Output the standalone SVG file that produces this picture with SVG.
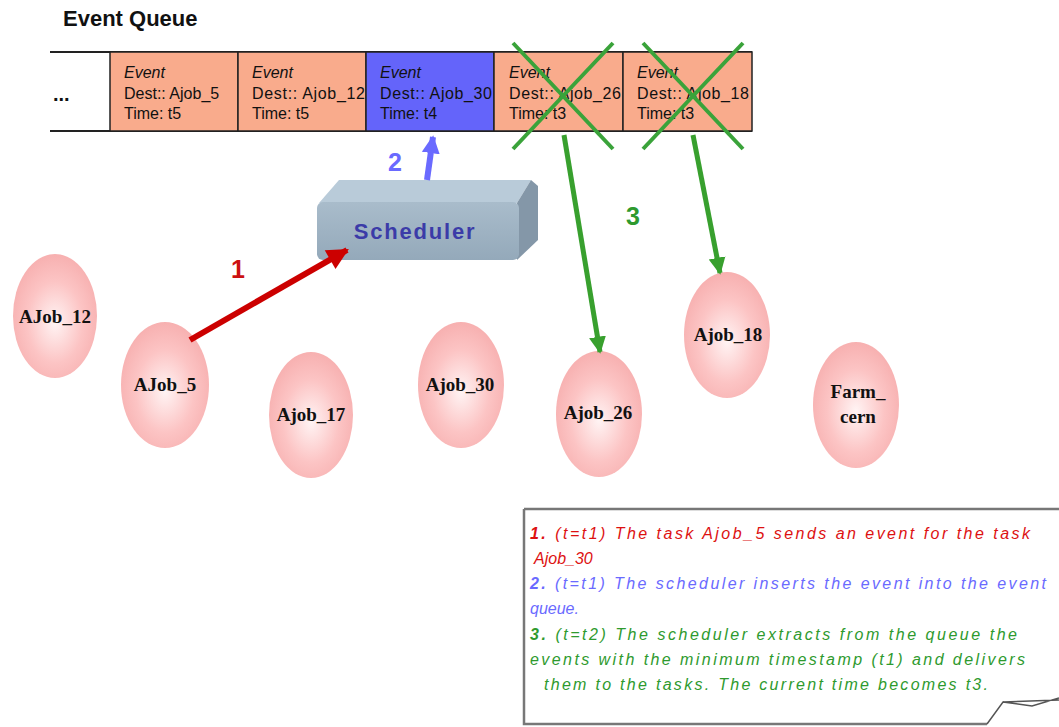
<svg xmlns="http://www.w3.org/2000/svg" width="1059" height="727" viewBox="0 0 1059 727">
<style>
.title{font-family:"Liberation Sans",Arial,sans-serif;font-weight:bold;font-size:22px;fill:#111}
.cell{stroke:#222;stroke-width:1.5}
.ct{font-family:"Liberation Sans",Arial,sans-serif;font-size:16px;fill:#111}
.job{font-family:"Liberation Serif","Times New Roman",serif;font-weight:bold;font-size:19px;fill:#111;text-anchor:middle}
.num{font-family:"Liberation Sans",Arial,sans-serif;font-size:25px;font-weight:bold}
.note{font-family:"Liberation Sans",Arial,sans-serif;font-style:italic;font-size:16px}
.x{stroke:#3aa33a;stroke-width:4}
</style>
<defs>
<radialGradient id="pink" cx="0.5" cy="0.55" r="0.55">
<stop offset="0" stop-color="#fff4f4"/>
<stop offset="0.6" stop-color="#fcc4c4"/>
<stop offset="1" stop-color="#f7b0b0"/>
</radialGradient>
<linearGradient id="front" x1="0" y1="0" x2="0" y2="1">
<stop offset="0" stop-color="#a9bccb"/>
<stop offset="1" stop-color="#94a9ba"/>
</linearGradient>
<marker id="ar" viewBox="0 0 10 10" refX="9" refY="5" markerWidth="4" markerHeight="3.6" orient="auto"><path d="M0,0L10,5L0,10z" fill="#cc0000"/></marker>
<marker id="ab" viewBox="0 0 10 10" refX="9" refY="5" markerWidth="3" markerHeight="3.4" orient="auto"><path d="M0,0L10,5L0,10z" fill="#6a6aff"/></marker>
<marker id="ag" viewBox="0 0 10 10" refX="9" refY="5" markerWidth="3.4" markerHeight="3.6" orient="auto"><path d="M0,0L10,5L0,10z" fill="#38a02e"/></marker>
</defs>
<rect width="1059" height="727" fill="#fff"/>
<text class="title" x="63" y="26">Event Queue</text>

<g id="queue">
<line x1="50" y1="52" x2="752" y2="52" stroke="#222" stroke-width="2"/>
<line x1="50" y1="131" x2="752" y2="131" stroke="#222" stroke-width="2"/>
<text x="53" y="101" style="font-family:'Liberation Sans',Arial,sans-serif;font-size:20px;font-weight:bold" fill="#111">...</text>
<g id="e1"><rect class="cell" x="110" y="52" width="128" height="79" fill="#f9ab8c"/>
<text class="ct" x="124" y="78" font-style="italic">Event</text><text class="ct" x="124" y="99">Dest:: Ajob_5</text><text class="ct" x="124" y="119">Time: t5</text></g>
<g id="e2"><rect class="cell" x="238" y="52" width="128" height="79" fill="#f9ab8c"/>
<text class="ct" x="252" y="78" font-style="italic">Event</text><text class="ct" x="252" y="99" textLength="113">Dest:: Ajob_12</text><text class="ct" x="252" y="119">Time: t5</text></g>
<g id="e3"><rect class="cell" x="366" y="52" width="128" height="79" fill="#6464fa"/>
<text class="ct" x="380" y="78" font-style="italic">Event</text><text class="ct" x="380" y="99" textLength="112">Dest:: Ajob_30</text><text class="ct" x="380" y="119">Time: t4</text></g>
<g id="e4"><rect class="cell" x="494" y="52" width="129" height="79" fill="#f9ab8c"/>
<text class="ct" x="509" y="78" font-style="italic">Event</text><text class="ct" x="509" y="99" textLength="112">Dest:: Ajob_26</text><text class="ct" x="509" y="119">Time: t3</text>
<line class="x" x1="513" y1="43" x2="613" y2="149"/><line class="x" x1="613" y1="43" x2="513" y2="149"/></g>
<g id="e5"><rect class="cell" x="623" y="52" width="129" height="79" fill="#f9ab8c"/>
<text class="ct" x="637" y="78" font-style="italic">Event</text><text class="ct" x="637" y="99" textLength="112">Dest:: Ajob_18</text><text class="ct" x="637" y="119">Time: t3</text>
<line class="x" x1="643" y1="43" x2="743" y2="149"/><line class="x" x1="743" y1="43" x2="643" y2="149"/></g>
</g>

<g id="scheduler">
<polygon points="319,203 339,180 531,180 517,203" fill="#b9cbd9"/>
<polygon points="517,203 531,180 538,186 538,240 517,260" fill="#8497a8"/>
<rect x="317" y="202" width="202" height="58" rx="6" fill="url(#front)"/>
<text x="415" y="239" text-anchor="middle" style="font-family:'Liberation Sans',Arial,sans-serif;font-weight:bold;font-size:22px;letter-spacing:1.8px" fill="#3b3ba8">Scheduler</text>
</g>

<g id="jobs">
<g id="AJob_12"><ellipse cx="55" cy="316" rx="42" ry="62" fill="url(#pink)"/><text class="job" x="55" y="323">AJob_12</text></g>
<g id="AJob_5"><ellipse cx="165" cy="385" rx="44" ry="63" fill="url(#pink)"/><text class="job" x="165" y="391">AJob_5</text></g>
<g id="Ajob_17"><ellipse cx="311" cy="415" rx="42" ry="63" fill="url(#pink)"/><text class="job" x="311" y="421">Ajob_17</text></g>
<g id="Ajob_30"><ellipse cx="461" cy="385" rx="43" ry="63" fill="url(#pink)"/><text class="job" x="460" y="391">Ajob_30</text></g>
<g id="Ajob_26"><ellipse cx="599" cy="414" rx="43" ry="63" fill="url(#pink)"/><text class="job" x="598" y="419">Ajob_26</text></g>
<g id="Ajob_18"><ellipse cx="727" cy="335" rx="43" ry="63" fill="url(#pink)"/><text class="job" x="728" y="341">Ajob_18</text></g>
<g id="Farm_cern"><ellipse cx="856" cy="405" rx="43" ry="63" fill="url(#pink)"/><text class="job" x="858" y="398">Farm_</text><text class="job" x="858" y="423">cern</text></g>
</g>

<g id="connectors">
<line x1="190" y1="340" x2="347" y2="250" stroke="#cc0000" stroke-width="6" marker-end="url(#ar)"/>
<line x1="427" y1="180" x2="433" y2="137" stroke="#6a6aff" stroke-width="6" marker-end="url(#ab)"/>
<line x1="564" y1="135" x2="600" y2="352" stroke="#38a02e" stroke-width="5" marker-end="url(#ag)"/>
<line x1="693" y1="135" x2="720" y2="273" stroke="#38a02e" stroke-width="5" marker-end="url(#ag)"/>
<text class="num" x="231" y="278" fill="#cc1111">1</text>
<text class="num" x="388" y="171" fill="#6a6aff">2</text>
<text class="num" x="626" y="225" fill="#2e9a2e">3</text>
</g>

<g id="note">
<path d="M524,509 H1059 M524,509 V724 H987" fill="none" stroke="#777" stroke-width="2.5"/>
<path d="M987,724 L1003,702 L1032,706 L1059,698 M1003,702 L1059,700" fill="none" stroke="#555" stroke-width="1.5"/>
<text class="note" x="530" y="539" fill="#dd1111" textLength="500"><tspan font-weight="bold">1.</tspan> (t=t1) The task Ajob_5 sends an  event for the task</text>
<text class="note" x="534" y="564" fill="#dd1111"> Ajob_30</text>
<text class="note" x="530" y="589" fill="#6a6aff" textLength="516"><tspan font-weight="bold">2.</tspan> (t=t1) The scheduler inserts the event into the  event</text>
<text class="note" x="530" y="614" fill="#6a6aff">queue.</text>
<text class="note" x="530" y="640" fill="#2e9a2e" textLength="487"><tspan font-weight="bold">3.</tspan> (t=t2) The scheduler  extracts from the queue the</text>
<text class="note" x="530" y="665" fill="#2e9a2e" textLength="495">events with the  minimum timestamp (t1) and delivers</text>
<text class="note" x="544" y="690" fill="#2e9a2e" textLength="444">them to the tasks. The current time becomes t3.</text>
</g>
</svg>
